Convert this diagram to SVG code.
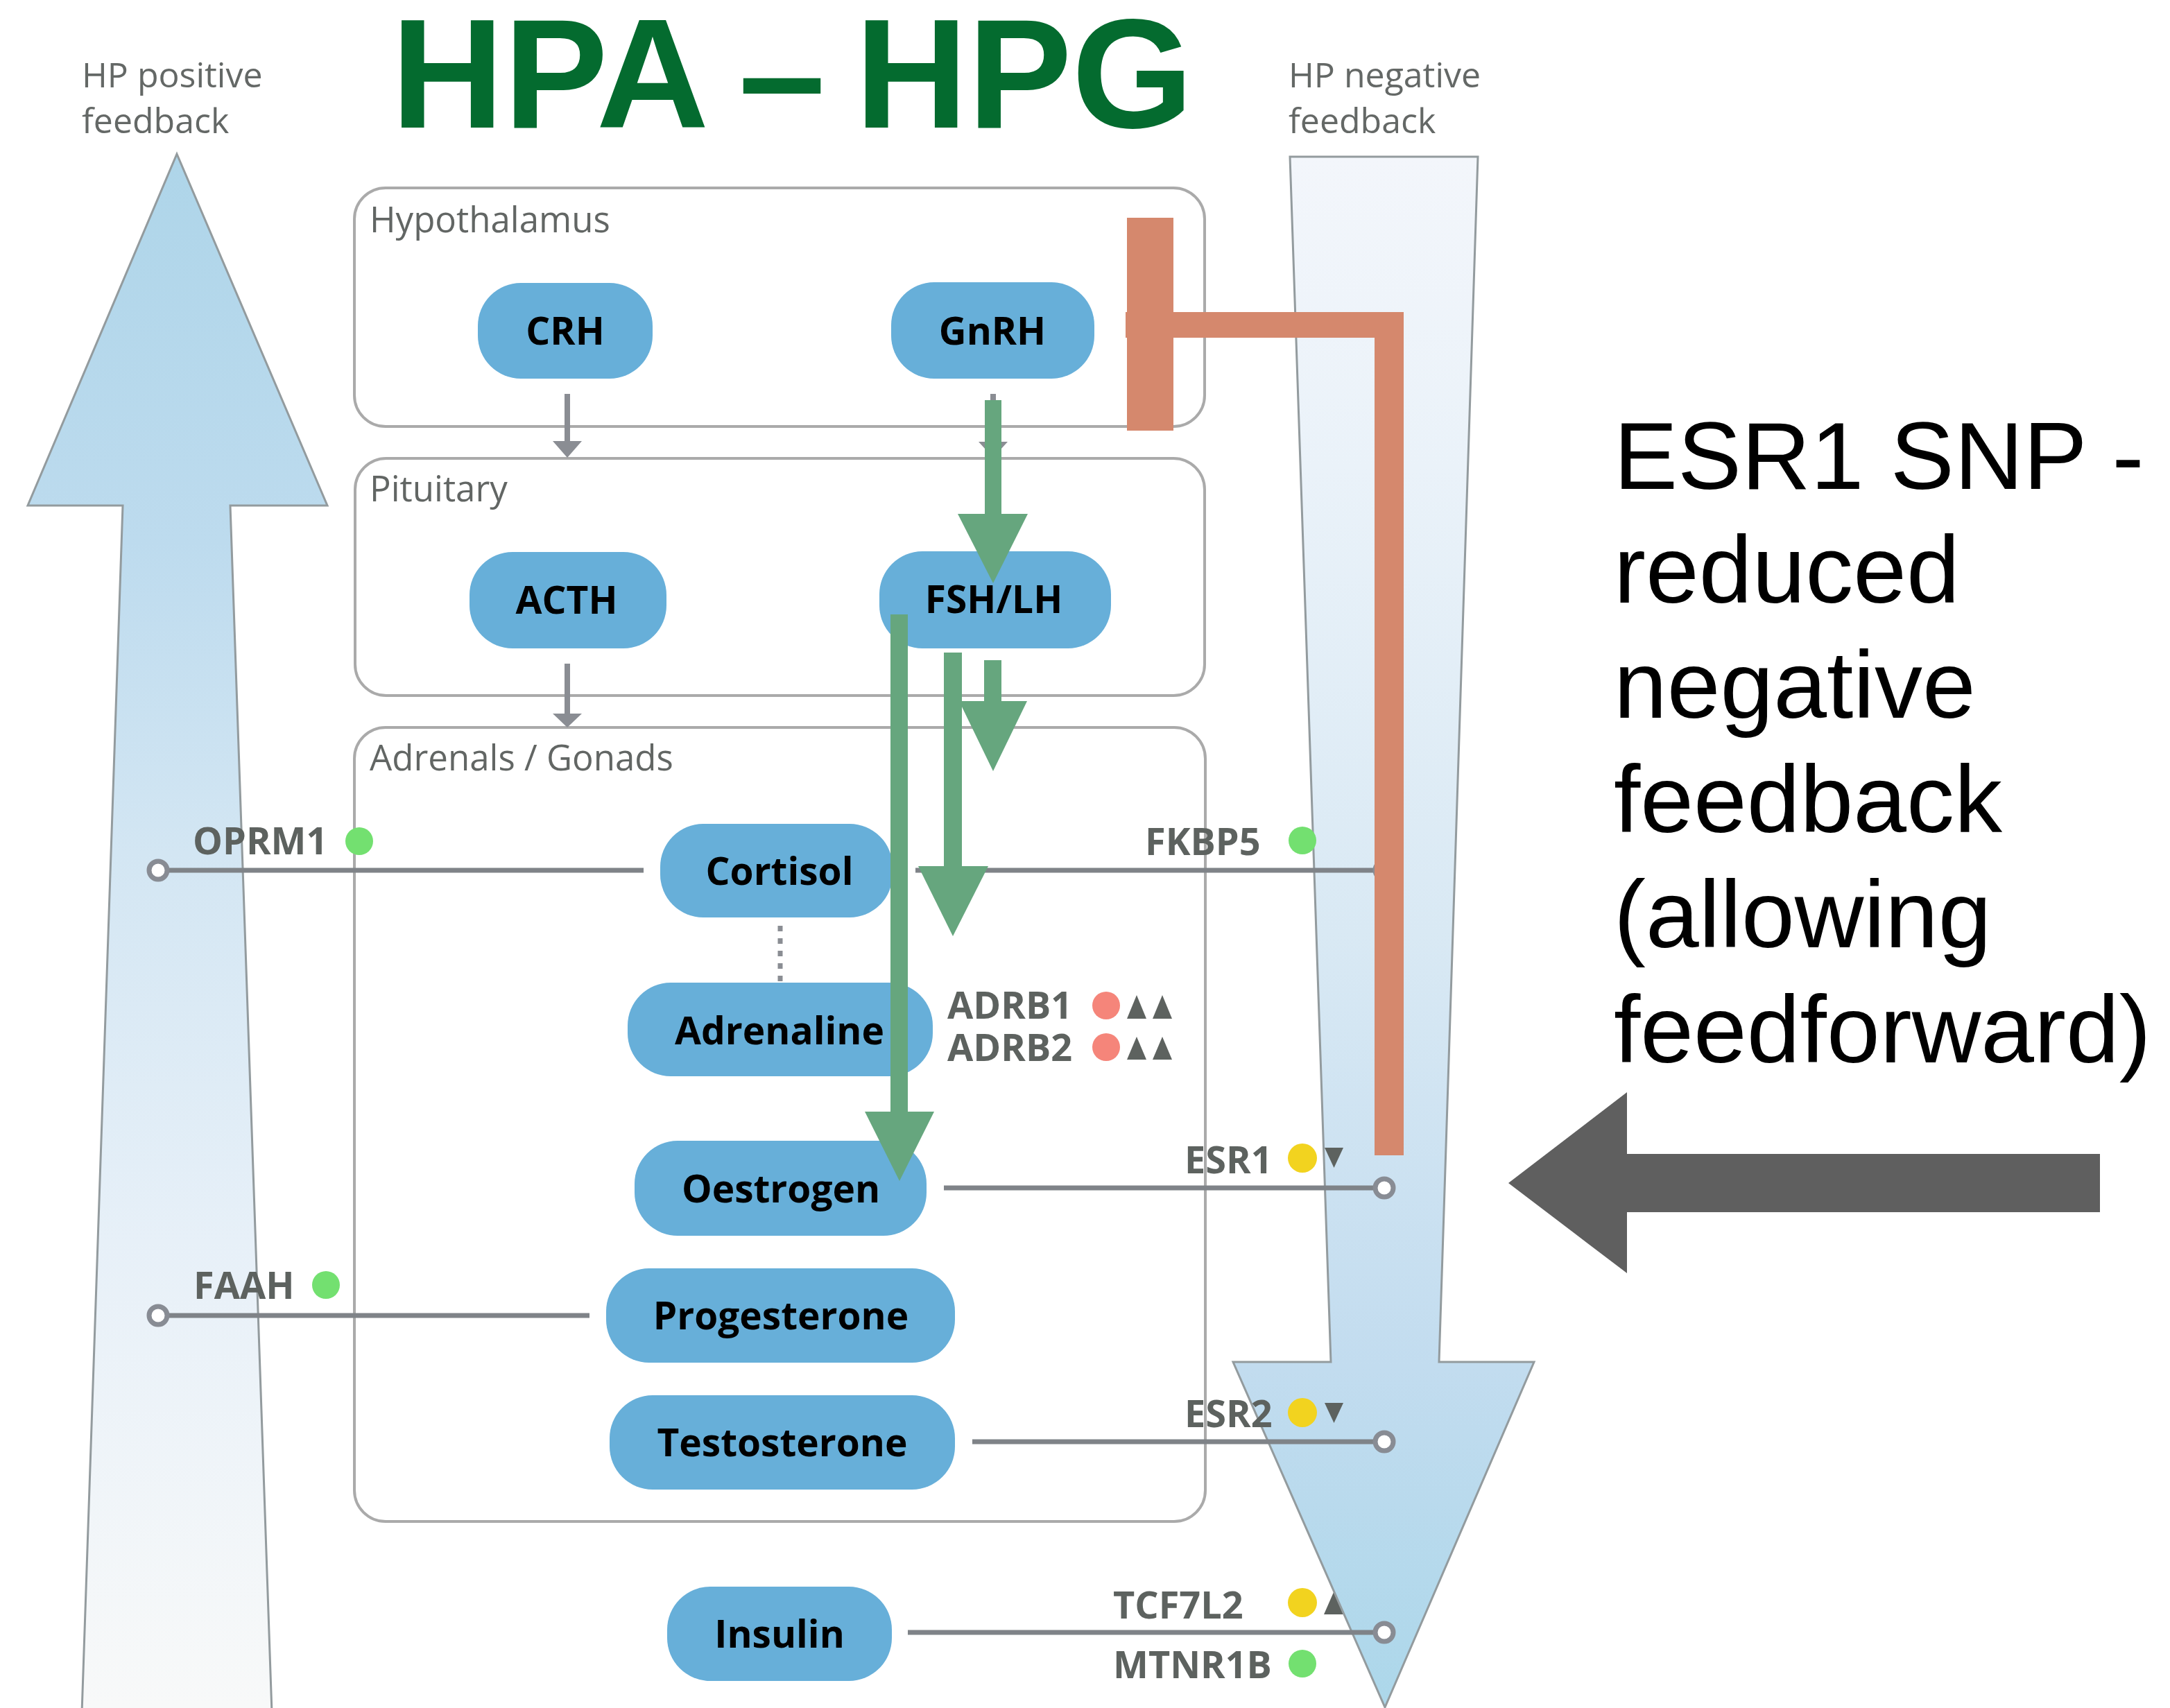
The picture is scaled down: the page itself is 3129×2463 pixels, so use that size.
<svg xmlns="http://www.w3.org/2000/svg" width="3129" height="2463" viewBox="0 0 3129 2463">
  <defs>
    <linearGradient id="gradUp" gradientUnits="userSpaceOnUse" x1="0" y1="221" x2="0" y2="2463">
      <stop offset="0" stop-color="#aed5e9"/>
      <stop offset="0.25" stop-color="#bddbee"/>
      <stop offset="0.45" stop-color="#d3e6f3"/>
      <stop offset="0.7" stop-color="#e7f0f8"/>
      <stop offset="1" stop-color="#f8f9f9"/>
    </linearGradient>
    <linearGradient id="gradDown" gradientUnits="userSpaceOnUse" x1="0" y1="226" x2="0" y2="2463">
      <stop offset="0" stop-color="#f3f6fb"/>
      <stop offset="0.2" stop-color="#eaf2f9"/>
      <stop offset="0.5" stop-color="#d9e9f4"/>
      <stop offset="0.78" stop-color="#c2dcef"/>
      <stop offset="1" stop-color="#acd7ea"/>
    </linearGradient>
    <style>
      .fb-label { font-family: "Open Sans", "Noto Sans", sans-serif; font-size: 50px; fill: #646866; }
      .big-arrow { stroke: #939b9e; stroke-width: 3; }
      .region { fill: none; stroke: #aaaaaa; stroke-width: 4; }
      .region-label { font-family: "Open Sans", "Noto Sans", sans-serif; font-size: 51px; fill: #626664; }
      .node rect { fill: #67afd9; }
      .node text { font-family: "Open Sans", "Noto Sans", sans-serif; font-weight: bold; font-size: 55px; fill: #000; text-anchor: middle; }
      .flow { stroke: #8a8d93; stroke-width: 8; fill: none; }
      .flow-head { fill: #8a8d93; }
      .green { fill: #66a67e; }
      .orange { fill: #d5886d; }
      .gene-line { stroke: #7f8388; stroke-width: 7; fill: none; }
      .gene-end { fill: #ffffff; stroke: #888c94; stroke-width: 7; }
      .gene { font-family: "Open Sans", "Noto Sans", sans-serif; font-weight: bold; font-size: 54px; fill: #5d625f; }
      .dot-green { fill: #73e070; }
      .dot-yellow { fill: #f2d31f; }
      .dot-red { fill: #f5857a; }
      .mark { fill: #5d625f; }
      .note { font-family: "Liberation Sans", Arial, sans-serif; font-size: 138px; fill: #000; }
    </style>
  </defs>

  <rect width="3129" height="2463" fill="#ffffff"/>

  <!-- TCF7L2 effect marker sits underneath the negative-feedback arrow -->
  <polygon class="mark" points="1909,2328 1937,2328 1923,2296"/>

  <!-- Positive and negative feedback arrows -->
  <g id="hp-positive-arrow">
    <polygon class="big-arrow" fill="url(#gradUp)" points="255,222 472,729 332,729 392,2470 118,2470 177,729 40,729"/>
  </g>
  <g id="hp-negative-arrow">
    <polygon class="big-arrow" fill="url(#gradDown)" points="1860,226 2131,226 2075,1964 2212,1964 1997,2462 1778,1964 1919,1964"/>
  </g>

  <text class="fb-label" x="118" y="126">HP positive</text>
  <text class="fb-label" x="118" y="192">feedback</text>
  <text class="fb-label" x="1858" y="126">HP negative</text>
  <text class="fb-label" x="1858" y="192">feedback</text>

  <!-- Title -->
  <g id="title" font-family="Liberation Sans, Arial, sans-serif" font-weight="bold" font-size="225" fill="#046b2f">
    <text x="564" y="184">HPA</text>
    <text x="1065" y="184">–</text>
    <text x="1233" y="184">HPG</text>
  </g>

  <!-- Anatomical regions -->
  <g id="region-hypothalamus">
    <rect class="region" x="511" y="271" width="1226" height="344" rx="45"/>
    <text class="region-label" x="533" y="335">Hypothalamus</text>
  </g>
  <g id="region-pituitary">
    <rect class="region" x="512" y="661" width="1225" height="342" rx="45"/>
    <text class="region-label" x="533" y="723">Pituitary</text>
  </g>
  <g id="region-adrenals-gonads">
    <rect class="region" x="511" y="1049" width="1227" height="1145" rx="45"/>
    <text class="region-label" x="533" y="1111">Adrenals / Gonads</text>
  </g>

  <!-- Axis connectors -->
  <g id="connectors">
    <line class="flow" x1="818" y1="568" x2="818" y2="640"/>
    <polygon class="flow-head" points="797,636 839,636 818,660"/>
    <line class="flow" x1="1432" y1="568" x2="1432" y2="640"/>
    <polygon class="flow-head" points="1411,637 1453,637 1432,660"/>
    <line class="flow" x1="818" y1="957" x2="818" y2="1032"/>
    <polygon class="flow-head" points="797,1029 839,1029 818,1049"/>
    <line x1="1125" y1="1335" x2="1125" y2="1417" stroke="#8a8d93" stroke-width="7" stroke-dasharray="8 10"/>
  </g>

  <!-- Hormone nodes -->
  <g id="node-crh" class="node">
    <rect x="689" y="408" width="252" height="138" rx="62"/>
    <text x="815" y="497">CRH</text>
  </g>
  <g id="node-gnrh" class="node">
    <rect x="1285" y="407" width="293" height="139" rx="62"/>
    <text x="1431" y="497">GnRH</text>
  </g>
  <g id="node-acth" class="node">
    <rect x="677" y="796" width="284" height="139" rx="62"/>
    <text x="817" y="885">ACTH</text>
  </g>
  <g id="node-fshlh" class="node">
    <rect x="1268" y="795" width="334" height="140" rx="62"/>
    <text x="1433" y="884">FSH/LH</text>
  </g>
  <g id="node-cortisol" class="node">
    <rect x="952" y="1188" width="335" height="135" rx="62"/>
    <text x="1124" y="1276">Cortisol</text>
  </g>
  <g id="node-adrenaline" class="node">
    <rect x="905" y="1417" width="440" height="135" rx="62"/>
    <text x="1124" y="1506">Adrenaline</text>
  </g>
  <g id="node-oestrogen" class="node">
    <rect x="915" y="1645" width="421" height="137" rx="62"/>
    <text x="1126" y="1734">Oestrogen</text>
  </g>
  <g id="node-progesterone" class="node">
    <rect x="874" y="1829" width="503" height="136" rx="62"/>
    <text x="1126" y="1917">Progesterone</text>
  </g>
  <g id="node-testosterone" class="node">
    <rect x="879" y="2012" width="498" height="136" rx="62"/>
    <text x="1128" y="2100">Testosterone</text>
  </g>
  <g id="node-insulin" class="node">
    <rect x="962" y="2288" width="324" height="136" rx="62"/>
    <text x="1124" y="2376">Insulin</text>
  </g>

  <!-- Receptor gene links -->
  <g id="gene-links">
    <line class="gene-line" x1="228" y1="1255" x2="928" y2="1255"/>
    <circle class="gene-end" cx="228" cy="1255" r="13"/>
    <line class="gene-line" x1="1320" y1="1255" x2="1990" y2="1255"/>
    <circle class="gene-end" cx="1996" cy="1255" r="13"/>
    <line class="gene-line" x1="228" y1="1897" x2="850" y2="1897"/>
    <circle class="gene-end" cx="228" cy="1897" r="13"/>
    <line class="gene-line" x1="1361" y1="1713" x2="1990" y2="1713"/>
    <circle class="gene-end" cx="1996" cy="1713" r="13"/>
    <line class="gene-line" x1="1402" y1="2079" x2="1990" y2="2079"/>
    <circle class="gene-end" cx="1996" cy="2079" r="13"/>
    <line class="gene-line" x1="1309" y1="2354" x2="1990" y2="2354"/>
    <circle class="gene-end" cx="1996" cy="2354" r="13"/>
  </g>

  <!-- Stimulatory HPG arrows -->
  <g id="hpg-arrows">
    <rect class="green" x="1420" y="577" width="24" height="166"/>
    <polygon class="green" points="1381,741 1482,741 1432,841"/>
    <rect class="green" x="1419" y="952" width="25" height="61"/>
    <polygon class="green" points="1383,1011 1481,1011 1432,1112"/>
    <rect class="green" x="1361" y="941" width="26" height="310"/>
    <polygon class="green" points="1324,1249 1425,1249 1374,1350"/>
    <rect class="green" x="1284" y="886" width="25" height="719"/>
    <polygon class="green" points="1247,1603 1347,1603 1297,1703"/>
  </g>

  <!-- Oestrogen negative feedback onto GnRH -->
  <g id="esr1-inhibition">
    <rect class="orange" x="1623" y="450" width="401" height="37"/>
    <rect class="orange" x="1982" y="450" width="42" height="1216"/>
    <rect class="orange" x="1625" y="314" width="67" height="307"/>
  </g>

  <!-- Gene labels with variant markers -->
  <g id="gene-oprm1">
    <text class="gene" x="278" y="1232">OPRM1</text>
    <circle class="dot-green" cx="518" cy="1213" r="20"/>
  </g>
  <g id="gene-fkbp5">
    <text class="gene" x="1651" y="1233">FKBP5</text>
    <circle class="dot-green" cx="1878" cy="1212" r="20"/>
  </g>
  <g id="gene-faah">
    <text class="gene" x="279" y="1873">FAAH</text>
    <circle class="dot-green" cx="470" cy="1853" r="20"/>
  </g>
  <g id="gene-adrb1">
    <text class="gene" x="1366" y="1469">ADRB1</text>
    <circle class="dot-red" cx="1595" cy="1450" r="20"/>
    <polygon class="mark" points="1625,1469 1653,1469 1639,1435"/>
    <polygon class="mark" points="1662,1469 1690,1469 1676,1435"/>
  </g>
  <g id="gene-adrb2">
    <text class="gene" x="1366" y="1530">ADRB2</text>
    <circle class="dot-red" cx="1595" cy="1510" r="20"/>
    <polygon class="mark" points="1625,1528 1653,1528 1639,1495"/>
    <polygon class="mark" points="1662,1528 1690,1528 1676,1495"/>
  </g>
  <g id="gene-esr1">
    <text class="gene" x="1708" y="1692">ESR1</text>
    <circle class="dot-yellow" cx="1878" cy="1670" r="21"/>
    <polygon class="mark" points="1910,1655 1937,1655 1923.5,1684"/>
  </g>
  <g id="gene-esr2">
    <text class="gene" x="1708" y="2058">ESR2</text>
    <circle class="dot-yellow" cx="1878" cy="2037" r="21"/>
    <polygon class="mark" points="1910,2023 1937,2023 1923.5,2052"/>
  </g>
  <g id="gene-tcf7l2">
    <text class="gene" x="1605" y="2334">TCF7L2</text>
    <circle class="dot-yellow" cx="1878" cy="2311" r="21"/>
  </g>
  <g id="gene-mtnr1b">
    <text class="gene" x="1605" y="2420">MTNR1B</text>
    <circle class="dot-green" cx="1878" cy="2399" r="20"/>
  </g>

  <!-- Annotation -->
  <g id="annotation">
    <text class="note" x="2327" y="705">ESR1 SNP -</text>
    <text class="note" x="2327" y="869">reduced</text>
    <text class="note" x="2327" y="1035">negative</text>
    <text class="note" x="2327" y="1200">feedback</text>
    <text class="note" x="2327" y="1366">(allowing</text>
    <text class="note" x="2327" y="1532">feedforward)</text>
  </g>
  <g id="annotation-arrow">
    <polygon fill="#5f5f5f" points="2175,1706 2346,1575 2346,1664 3028,1664 3028,1748 2346,1748 2346,1836"/>
  </g>
</svg>
